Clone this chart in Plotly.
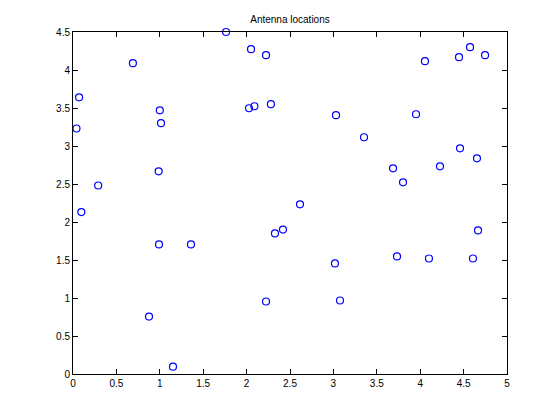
import plotly.graph_objects as go

x_vals = [0.04, 0.07, 0.096, 0.29, 0.69, 0.876, 1.00, 1.014, 0.987, 0.991,
          1.152, 1.359, 1.763, 2.051, 2.028, 2.09, 2.224, 2.28, 2.224, 2.327,
          2.419, 2.615, 3.03, 3.018, 3.076, 3.353, 3.687, 3.802, 3.733, 3.952,
          4.055, 4.101, 4.228, 4.447, 4.459, 4.574, 4.654, 4.747, 4.608, 4.666]
y_vals = [3.23, 3.64, 2.13, 2.48, 4.09, 0.756, 3.47, 3.30, 2.667, 1.705,
          0.097, 1.705, 4.50, 4.274, 3.497, 3.523, 4.195, 3.55, 0.954, 1.85,
          1.90, 2.232, 3.405, 1.455, 0.967, 3.115, 2.706, 2.522, 1.547, 3.418,
          4.116, 1.52, 2.733, 4.169, 2.97, 4.30, 2.838, 4.195, 1.52, 1.889]
x_ticks = [0, 0.5, 1, 1.5, 2, 2.5, 3, 3.5, 4, 4.5, 5]
y_ticks = [0, 0.5, 1, 1.5, 2, 2.5, 3, 3.5, 4, 4.5]
title = "Antenna locations"

fig = go.Figure()
fig.add_trace(go.Scatter(
    x=x_vals, y=y_vals, mode="markers",
    marker=dict(symbol="circle-open", size=7, color="#0000ff",
                line=dict(width=1.2, color="#0000ff")),
    showlegend=False, cliponaxis=False))

axis_common = dict(showgrid=False, zeroline=False, showline=True, linecolor="black",
                   linewidth=1, mirror="ticks", ticks="inside", ticklen=5,
                   tickcolor="black", tickfont=dict(family="Liberation Sans, Arial", size=10, color="black"))
fig.update_xaxes(range=[0, 5], tickvals=x_ticks, ticktext=[f"{v:g}" for v in x_ticks], **axis_common)
fig.update_yaxes(range=[0, 4.5], tickvals=y_ticks, ticktext=[f"{v:g}" for v in y_ticks], **axis_common)

fig.update_layout(
    width=560, height=420,
    margin=dict(l=65, r=61, t=24, b=54),
    paper_bgcolor="white", plot_bgcolor="white",
    title=dict(text=title, x=(290 - 8) / 560, xanchor="center", y=1 - 11/420, yanchor="middle",
               font=dict(family="Liberation Sans, Arial", size=10, color="black")),
)
fig.write_html("out.html")
